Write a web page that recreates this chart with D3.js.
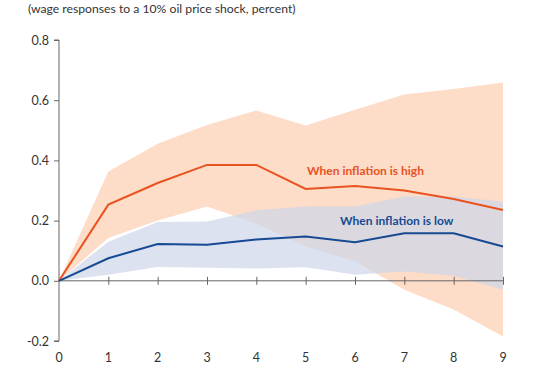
<!DOCTYPE html>
<html>
<head>
<meta charset="utf-8">
<script src="https://cdn.jsdelivr.net/npm/d3@7"></script>
<style>
body{margin:0;background:#fff;}
text{font-family:Lato,"Noto Sans",sans-serif;}
</style>
</head>
<body>
<div id="chart"></div>
<script>
// wage responses, horizon 0..9
var horizons=[0,1,2,3,4,5,6,7,8,9];
var highMid=[0,0.253,0.325,0.385,0.385,0.305,0.315,0.300,0.272,0.235];
var highUp=[0,0.363,0.455,0.518,0.566,0.516,0.568,0.619,0.637,0.659];
var highLo=[0,0.142,0.200,0.247,0.190,0.115,0.065,-0.030,-0.095,-0.185];
var lowMid=[0,0.075,0.122,0.120,0.137,0.147,0.128,0.158,0.158,0.114];
var lowUp=[0,0.130,0.195,0.197,0.234,0.247,0.247,0.280,0.280,0.263];
var lowLo=[0,0.020,0.046,0.043,0.041,0.045,0.020,0.031,0.017,-0.030];
var yTicks=[-0.2,0,0.2,0.4,0.6,0.8];

var width=538, height=375;
var svg=d3.select("#chart").append("svg").attr("width",width).attr("height",height);

var x=d3.scaleLinear().domain([0,9]).range([59,503]);
var y=d3.scaleLinear().domain([-0.2,0.8]).range([341,40]);

svg.append("text").attr("x",28).attr("y",13)
	.attr("font-size",12.2).attr("fill","#333")
	.text("(wage responses to a 10% oil price shock, percent)");

// bands
var band=function(lo,up){
	return d3.area().x(function(d){return x(d);})
		.y0(function(d,i){return y(lo[i]);})
		.y1(function(d,i){return y(up[i]);});
}
svg.append("path").datum(horizons).attr("d",band(highLo,highUp)).attr("fill","#fddcc8");
svg.append("path").datum(horizons).attr("d",band(lowLo,lowUp)).attr("fill","#cdd6e8").attr("opacity",0.7);

// axes
var yAxis=svg.append("g").attr("transform","translate(59,0)")
	.call(d3.axisLeft(y).tickValues(yTicks).tickSize(5).tickFormat(function(d){return d.toFixed(1);}));
yAxis.select(".domain").attr("stroke","#666").attr("d","M-5,"+y(-0.2)+"H0V"+y(0.8)+"H-5");
yAxis.selectAll(".tick line").attr("stroke","#666");
yAxis.selectAll(".tick text").attr("font-size",12.5).attr("fill","#333").attr("x",-10);

var xAxis=svg.append("g").attr("transform","translate(0,"+y(0)+")")
	.call(d3.axisBottom(x).tickValues(horizons.slice(1)).tickSize(4).tickFormat(""));
xAxis.select(".domain").attr("stroke","#666").attr("d","M"+x(0)+",0H"+x(9));
xAxis.selectAll(".tick line").attr("stroke","#666").attr("y1",-4).attr("y2",4);

svg.append("g").selectAll("text").data(horizons).enter().append("text")
	.attr("x",function(d){return x(d);}).attr("y",362)
	.attr("text-anchor","middle").attr("font-size",12.5).attr("fill","#333")
	.text(function(d){return d;});

// lines
var line=function(vals){
	return d3.line().x(function(d){return x(d);}).y(function(d,i){return y(vals[i]);});
}
svg.append("path").datum(horizons).attr("d",line(highMid)).attr("fill","none")
	.attr("stroke","#e8531f").attr("stroke-width",2);
svg.append("path").datum(horizons).attr("d",line(lowMid)).attr("fill","none")
	.attr("stroke","#164a93").attr("stroke-width",2);

svg.append("text").attr("x",307).attr("y",175).attr("font-size",12).attr("font-weight","bold")
	.attr("fill","#e8531f").text("When inflation is high");
svg.append("text").attr("x",340).attr("y",225).attr("font-size",12).attr("font-weight","bold")
	.attr("fill","#164a93").text("When inflation is low");
</script>
</body>
</html>
